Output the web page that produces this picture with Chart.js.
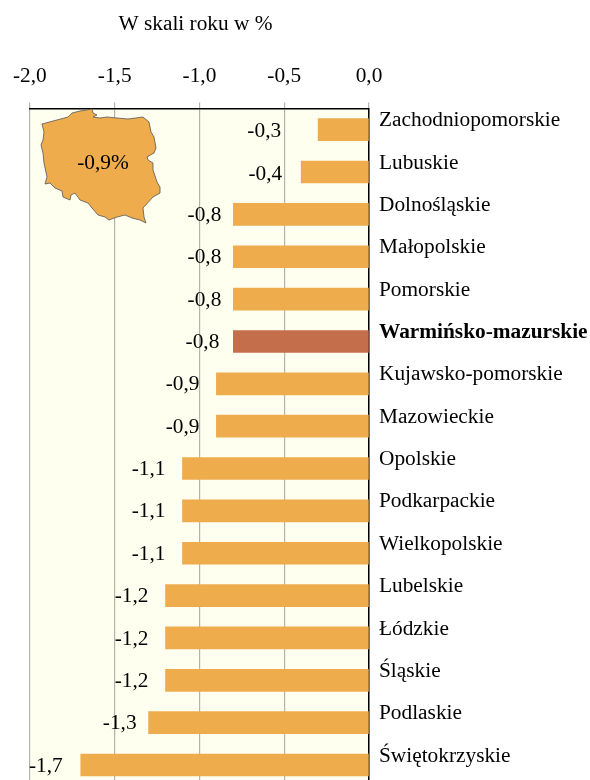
<!DOCTYPE html>
<html lang="pl">
<head>
<meta charset="utf-8">
<title>W skali roku w %</title>
<script src="https://cdn.jsdelivr.net/npm/chart.js@4"></script>
<style>
  html, body { margin: 0; padding: 0; background: #fff; width: 590px; height: 780px; overflow: hidden; }
  canvas { display: block; }
</style>
</head>
<body>
<canvas id="chart" width="590" height="809"></canvas>
<script>
const categories = [
  'Zachodniopomorskie', 'Lubuskie', 'Dolnośląskie', 'Małopolskie',
  'Pomorskie', 'Warmińsko-mazurskie', 'Kujawsko-pomorskie', 'Mazowieckie',
  'Opolskie', 'Podkarpackie', 'Wielkopolskie', 'Lubelskie',
  'Łódzkie', 'Śląskie', 'Podlaskie', 'Świętokrzyskie'
];
const values = [-0.3, -0.4, -0.8, -0.8, -0.8, -0.8, -0.9, -0.9, -1.1, -1.1, -1.1, -1.2, -1.2, -1.2, -1.3, -1.7];
const highlighted = 'Warmińsko-mazurskie';
const titleText = 'W skali roku w %';
const nationalLabel = '-0,9%';

const FONT = '"Liberation Serif", "Times New Roman", serif';
const FONT_SIZE = 21.33;
const BAR = '#EFAC4C';
const BAR_HI = '#C46E4B';

const comma = (v, d = 1) => v.toFixed(d).replace('.', ',');

// gap between each value label and the end of its bar, as in the original
const labelGaps = [37, 19, 12, 12, 12, 14, 17, 17, 17, 17, 17, 17, 17, 17, 12, 18];

const plotBackground = {
  id: 'plotBackground',
  beforeDraw (chart) {
    const { ctx, chartArea: a } = chart;
    ctx.save();
    ctx.fillStyle = '#FFFFF0';
    ctx.fillRect(a.left, a.top, a.right - a.left, a.bottom - a.top);
    ctx.restore();
  }
};

const valueLabels = {
  id: 'valueLabels',
  afterDatasetsDraw (chart) {
    const { ctx } = chart;
    const bars = chart.getDatasetMeta(0).data;
    ctx.save();
    ctx.font = FONT_SIZE + 'px ' + FONT;
    ctx.fillStyle = '#000';
    ctx.textAlign = 'right';
    ctx.textBaseline = 'middle';
    bars.forEach((bar, i) => {
      ctx.fillText(comma(values[i]), bar.x - labelGaps[i], bar.y + (i < 2 ? 2 : 1));
    });
    ctx.restore();
  }
};

// title sits a little left of the plot centre in the original
const topTitle = {
  id: 'topTitle',
  afterDraw (chart) {
    const { ctx } = chart;
    ctx.save();
    ctx.font = FONT_SIZE + 'px ' + FONT;
    ctx.fillStyle = '#000';
    ctx.textAlign = 'center';
    ctx.textBaseline = 'middle';
    ctx.fillText(titleText, 195.5, 24);
    ctx.restore();
  }
};

// outline of Poland, decorative inset, not data
const polandOutline = [
  [42,124],[68,117],[72,113],[80,111],[92,109],[93,113],[97,115],[93,117],[100,118],[107,117],
  [117,118],[128,119],[143,117],[149,122],[151,132],[154,137],[156,148],[154,153],[147,157],[148,160],
  [153,163],[153,170],[157,182],[160,187],[160,193],[153,197],[143,208],[144,217],[146,223],[140,220],
  [132,218],[125,215],[117,217],[109,220],[105,217],[98,215],[92,208],[88,203],[80,200],[75,193],
  [71,195],[70,200],[63,197],[62,191],[55,188],[50,183],[45,184],[47,177],[44,163],[43,153],
  [41,145],[43,140],[44,132]
];

const polandMap = {
  id: 'polandMap',
  afterDatasetsDraw (chart) {
    const { ctx } = chart;
    ctx.save();
    ctx.beginPath();
    polandOutline.forEach(([x, y], i) => (i ? ctx.lineTo(x, y) : ctx.moveTo(x, y)));
    ctx.closePath();
    ctx.fillStyle = BAR;
    ctx.strokeStyle = '#555';
    ctx.lineWidth = 0.8;
    ctx.fill();
    ctx.stroke();
    ctx.font = FONT_SIZE + 'px ' + FONT;
    ctx.fillStyle = '#000';
    ctx.textAlign = 'center';
    ctx.textBaseline = 'middle';
    ctx.fillText(nationalLabel, 103, 163);
    ctx.restore();
  }
};

new Chart(document.getElementById('chart'), {
  type: 'bar',
  data: {
    labels: categories,
    datasets: [{
      data: values,
      backgroundColor: categories.map(c => (c === highlighted ? BAR_HI : BAR)),
      barThickness: 22,
      borderSkipped: false
    }]
  },
  options: {
    indexAxis: 'y',
    responsive: false,
    animation: false,
    layout: { padding: { top: 13, left: 27, right: 0, bottom: 4 } },
    plugins: { legend: { display: false }, tooltip: { enabled: false } },
    scales: {
      x: {
        position: 'top',
        min: -2,
        max: 0,
        afterFit (scale) { scale.height = 95.5; },
        ticks: {
          stepSize: 0.5,
          color: '#000',
          maxRotation: 0,
          padding: 13,
          font: { family: FONT, size: FONT_SIZE },
          callback: v => comma(v)
        },
        grid: { color: '#B4B4AA', lineWidth: 1.2, tickLength: 6 },
        border: { color: '#000', width: 1.5 }
      },
      y: {
        position: 'right',
        afterFit (scale) { scale.width = 221; },
        ticks: {
          color: '#000',
          padding: 10,
          labelOffset: -9,
          autoSkip: false,
          font: ctx => ({
            family: FONT,
            size: FONT_SIZE,
            weight: categories[ctx.index] === highlighted ? 'bold' : 'normal'
          })
        },
        grid: { drawOnChartArea: false, drawTicks: false },
        border: { color: '#000', width: 1.5 }
      }
    }
  },
  plugins: [plotBackground, valueLabels, polandMap, topTitle]
});
</script>
</body>
</html>
